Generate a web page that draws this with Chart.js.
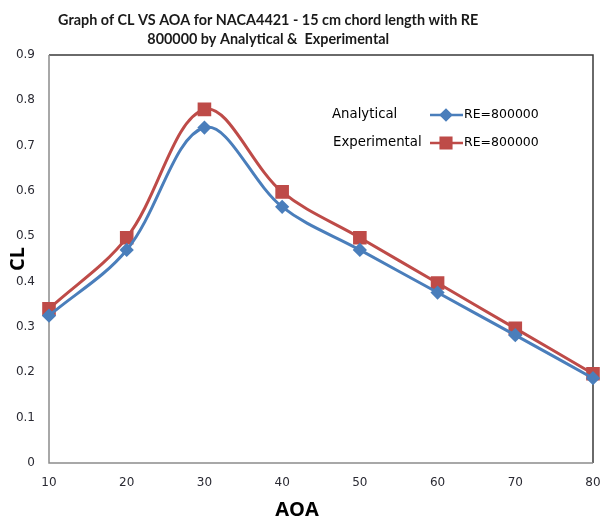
<!DOCTYPE html>
<html>
<head>
<meta charset="utf-8">
<title>CL vs AOA</title>
<script src="https://cdn.jsdelivr.net/npm/chart.js@4.4.1/dist/chart.umd.min.js"></script>
<style>
  body { margin: 0; background: #fff; }
  #wrap { width: 600px; height: 520px; }
</style>
</head>
<body>
<div id="wrap"><canvas id="graph" width="600" height="520"></canvas></div>
<script>
// datos
const aoa = [10, 20, 30, 40, 50, 60, 70, 80];
const clAnalytical = [0.325, 0.47, 0.74, 0.565, 0.47, 0.376, 0.282, 0.187];
const clExperimental = [0.34, 0.497, 0.78, 0.598, 0.497, 0.397, 0.297, 0.197];
const seriesNames = ["Analytical", "Experimental"];
const legendLabel = "RE=800000";
const titleLines = ["Graph of CL VS AOA for NACA4421 - 15 cm chord length with RE", "800000 by Analytical &  Experimental"];
const xTitle = "AOA";
const yTitle = "CL";

const blue = "#4a7ebb";
const red = "#be4b48";

function toPoints(values) {
  return values.map((v, i) => ({ x: aoa[i], y: v }));
}

// titulo y titulo del eje X (en Excel no quedan centrados sobre el area)
const titles = {
  id: "titles",
  afterDraw(chart) {
    const ctx = chart.ctx;
    ctx.save();
    ctx.textAlign = "center";
    ctx.textBaseline = "middle";
    ctx.fillStyle = "#1a1a1a";
    ctx.font = "bold 14.4px Lato";
    titleLines.forEach((line, i) => {
      ctx.fillText(line, chart.width * 0.447, 20 + i * 19);
    });
    ctx.fillStyle = "#000";
    ctx.font = "bold 20px 'Open Sans'";
    ctx.fillText(xTitle, chart.width * 0.495, chart.height - 10);
    ctx.restore();
  }
};

// borde del area del grafico (gris abajo/izquierda, oscuro arriba/derecha)
const plotBorder = {
  id: "plotBorder",
  beforeDatasetsDraw(chart) {
    const a = chart.chartArea;
    const ctx = chart.ctx;
    ctx.save();
    ctx.lineWidth = 1.5;
    ctx.strokeStyle = "#3a3a3a";
    ctx.beginPath();
    ctx.moveTo(a.left, a.top);
    ctx.lineTo(a.right, a.top);
    ctx.lineTo(a.right, a.bottom);
    ctx.stroke();
    ctx.strokeStyle = "#8c8c8c";
    ctx.beginPath();
    ctx.moveTo(a.left, a.top);
    ctx.lineTo(a.left, a.bottom);
    ctx.lineTo(a.right, a.bottom);
    ctx.stroke();
    ctx.restore();
  }
};

// leyenda dentro del area, estilo Excel
const insideLegend = {
  id: "insideLegend",
  afterDatasetsDraw(chart) {
    const a = chart.chartArea;
    const ctx = chart.ctx;
    ctx.save();
    ctx.textBaseline = "middle";
    ctx.textAlign = "left";
    chart.data.datasets.forEach((ds, i) => {
      const y = a.top + 60 + i * 28;
      ctx.fillStyle = "#000";
      ctx.font = "13.3px 'DejaVu Sans'";
      ctx.fillText(seriesNames[i], a.left + 283 + i, y);
      const x0 = a.left + 381;
      ctx.strokeStyle = ds.borderColor;
      ctx.lineWidth = 2.5;
      ctx.beginPath();
      ctx.moveTo(x0, y);
      ctx.lineTo(x0 + 33, y);
      ctx.stroke();
      Chart.helpers.drawPoint(ctx, {
        pointStyle: ds.pointStyle,
        radius: ds.pointRadius,
        borderWidth: 1,
        rotation: 0
      }, x0 + 16, y);
      ctx.fillStyle = ds.pointBackgroundColor;
      ctx.strokeStyle = ds.pointBorderColor;
      ctx.fill();
      ctx.fillStyle = "#000";
      ctx.font = "12.5px 'DejaVu Sans'";
      ctx.fillText(legendLabel, x0 + 34, y);
    });
    ctx.restore();
  }
};

const config = {
  type: "line",
  data: {
    datasets: [
      {
        label: seriesNames[0],
        data: toPoints(clAnalytical),
        borderColor: blue,
        backgroundColor: blue,
        pointBackgroundColor: blue,
        pointBorderColor: blue,
        pointStyle: "rectRot",
        pointRadius: 5,
        borderWidth: 3,
        tension: 0.35,
        clip: false
      },
      {
        label: seriesNames[1],
        data: toPoints(clExperimental),
        borderColor: red,
        backgroundColor: red,
        pointBackgroundColor: red,
        pointBorderColor: red,
        pointStyle: "rect",
        pointRadius: 7.5,
        borderWidth: 3,
        tension: 0.35,
        clip: false
      }
    ]
  },
  options: {
    responsive: false,
    animation: false,
    layout: { autoPadding: false, padding: { left: 0, right: 0, top: 55, bottom: 0 } },
    plugins: {
      legend: { display: false },
      tooltip: { enabled: false },
      title: { display: false }
    },
    scales: {
      x: {
        type: "linear",
        min: 10,
        max: 80,
        ticks: {
          stepSize: 10,
          color: "#2a2a33",
          padding: 13,
          font: { family: "DejaVu Sans", size: 12 }
        },
        grid: { display: false, drawTicks: false },
        border: { display: false },
        afterFit(scale) {
          scale.height = 57;
          scale.paddingLeft = 0;
          scale.paddingRight = 7;
        }
      },
      y: {
        min: 0,
        max: 0.9,
        ticks: {
          stepSize: 0.1,
          color: "#2a2a33",
          padding: 14,
          font: { family: "DejaVu Sans", size: 12 },
          callback: (v) => Number(v.toFixed(1)).toString()
        },
        grid: { display: false, drawTicks: false },
        border: { display: false },
        title: {
          display: true,
          text: yTitle,
          color: "#000",
          font: { family: "Open Sans", size: 20, weight: "bold" },
          padding: { top: 6, bottom: 0 }
        },
        afterFit(scale) { scale.width = 49; }
      }
    }
  },
  plugins: [plotBorder, insideLegend, titles]
};

const graphCanvas = document.getElementById("graph");
window.myChart = new Chart(graphCanvas, config);
</script>
</body>
</html>
